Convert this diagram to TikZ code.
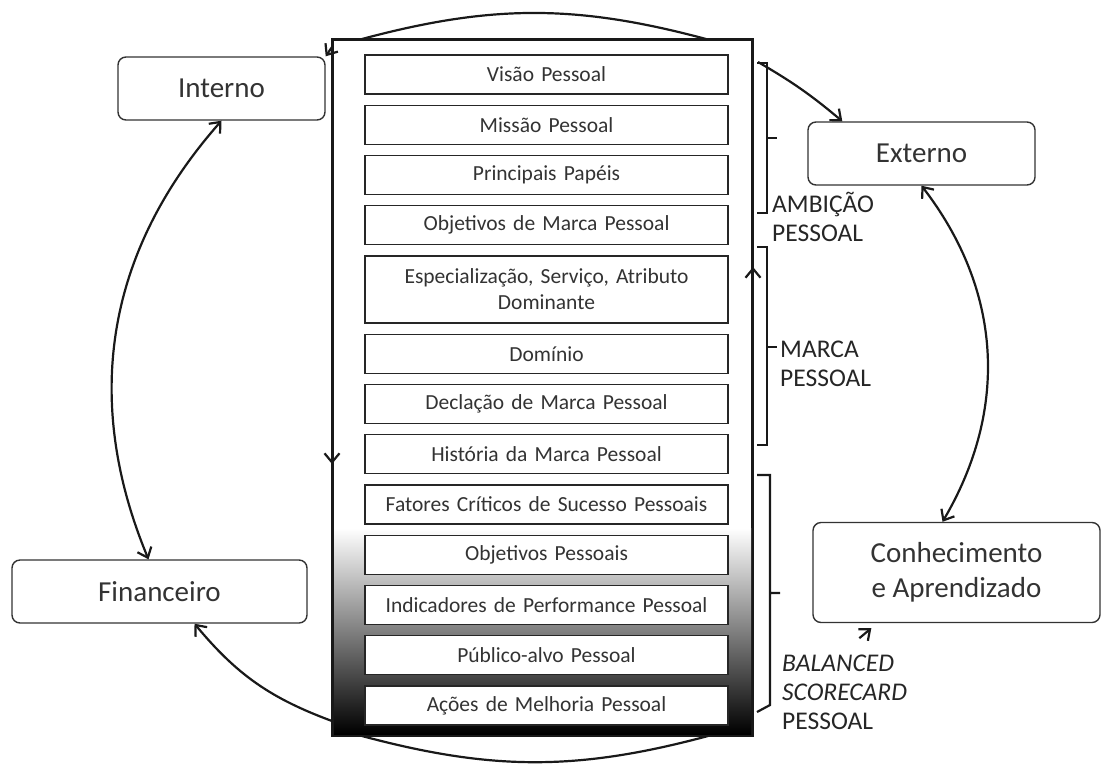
\documentclass[tikz,border=0pt]{standalone}
\usepackage{fontspec}
\setmainfont{Carlito}
\usetikzlibrary{positioning, arrows.meta}

\begin{document}
\begin{tikzpicture}[x=1pt, y=-1pt, node distance=11.25pt, >={Straight Barb[length=9pt, width=15pt]}]
        \tikzstyle{persp} = [rectangle, draw=black!80, line width=1.4pt, fill=white, rounded corners=8pt, text=black!80, font=\fontsize{29}{35}\selectfont, align=center]
        \tikzstyle{item} = [rectangle, draw=black!85, line width=1.4pt, fill=white, outer sep=0pt, minimum width=363pt, minimum height=39pt, text width=350pt, text centered, text=black!80, font=\fontsize{21.5}{26}\selectfont]
        \tikzstyle{group} = [anchor=west, inner sep=0pt, align=left, text=black!85, font=\fontsize{25.5}{29}\selectfont]
        \tikzstyle{cycle} = [line width=2.2pt, draw=black!90]
        \tikzstyle{bracket} = [line width=2.2pt, draw=black!90]

        \useasboundingbox (0,0) rectangle (1110,764);

        % painel central
        \node [rectangle, draw=black!90, line width=2pt, fill=white, minimum width=419pt, minimum height=695pt, inner sep=0pt] (panel) at (542.5,387.5) {};
        \shade [top color=white, bottom color=black] (334,528) rectangle (751,734);
        \draw [black!90, line width=2.2pt] (panel.north west) rectangle (panel.south east);

        \node [item] (visao) at (546.5,74.5) {Visão Pessoal};
        \node [item, below=of visao] (missao) {Missão Pessoal};
        \node [item, below=of missao] (papeis) {Principais Papéis};
        \node [item, below=of papeis] (objmarca) {Objetivos de Marca Pessoal};
        \node [item, below=of objmarca, minimum height=67pt] (espec) {Especialização, Serviço, Atributo\\Dominante};
        \node [item, below=of espec] (dominio) {Domínio};
        \node [item, below=of dominio] (declacao) {Declação de Marca Pessoal};
        \node [item, below=of declacao] (historia) {História da Marca Pessoal};
        \node [item, below=of historia] (fatores) {Fatores Críticos de Sucesso Pessoais};
        \node [item, below=of fatores] (objpess) {Objetivos Pessoais};
        \node [item, below=of objpess] (indic) {Indicadores de Performance Pessoal};
        \node [item, below=of indic] (publico) {Público-alvo Pessoal};
        \node [item, below=of publico] (acoes) {Ações de Melhoria Pessoal};

        % perspectivas
        \node [persp, minimum width=207pt, minimum height=63pt] (interno) at (221.5,88.5) {Interno};
        \node [persp, minimum width=227pt, minimum height=63pt] (externo) at (921.5,153.5) {Externo};
        \node [persp, minimum width=295pt, minimum height=63pt] (financeiro) at (159.5,591.5) {Financeiro};
        \node [persp, minimum width=287pt, minimum height=100pt] (conhec) at (956.5,572.5) {Conhecimento\\e Aprendizado};

        % grupos
        \draw [bracket] (757,63) -- (767,63) -- (767,213) -- (757,213) (767,138) -- (777,138);
        \draw [bracket] (757,247) -- (767,247) -- (767,445) -- (757,445) (767,347) -- (777,347);
        \draw [bracket] (757,475) -- (770,475) -- (770,705) -- (757,712) (770,593) -- (780,593);

        \node [group] (ambicao) at (772,217) {AMBIÇÃO\\PESSOAL};
        \node [group] (marca) at (780,364) {MARCA\\PESSOAL};
        \node [group] (bsc) at (782,692) {\textit{BALANCED}\\\textit{SCORECARD}\\PESSOAL};

        % ciclo
        \draw [cycle] ([xshift=30pt]panel.north west) to[bend left=15] ([xshift=-47pt]panel.north east);
        \draw [cycle] ([xshift=30pt]panel.south west) to[bend right=15] ([xshift=-45pt]panel.south east);
        \draw [cycle, ->] ([yshift=-8pt]panel.north west) -- (interno.north east);
        \draw [cycle, ->] ([xshift=5pt, yshift=-23pt]panel.north east) to[bend left=5] ([xshift=35pt]externo.north west);
        \draw [cycle, <->] (interno.south) to[bend right=32] ([xshift=-11pt]financeiro.north);
        \draw [cycle, <->] (externo.south) to[bend left=34] ([xshift=-14pt]conhec.north);
        \draw [cycle, ->] ([yshift=15pt]panel.south west) to[bend left=15] ([xshift=35pt]financeiro.south);
        \draw [cycle, ->] ([xshift=47pt, yshift=-15pt]conhec.south west) -- ([xshift=59pt, yshift=-5pt]conhec.south west);
        \draw [cycle, ->] ([yshift=-300pt]panel.north west) -- ([yshift=-425pt]panel.north west);
        \draw [cycle, ->] ([yshift=-300pt]panel.north east) -- ([yshift=-228pt]panel.north east);

    \end{tikzpicture}
\end{document}
